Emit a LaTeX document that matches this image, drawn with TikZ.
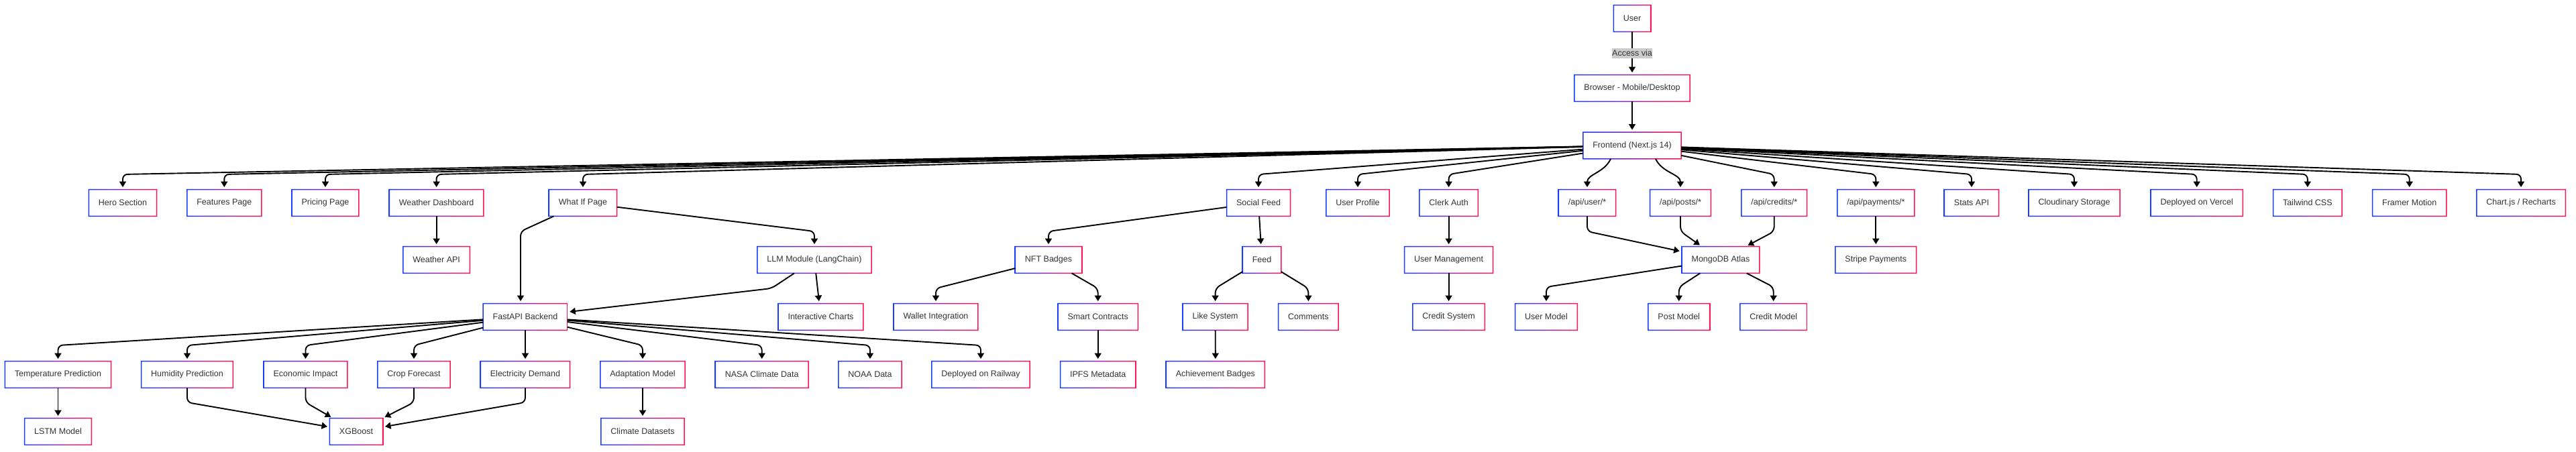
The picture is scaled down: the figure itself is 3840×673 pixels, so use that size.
\documentclass[tikz,border=0pt]{standalone}
\usepackage{fontspec}
\setmainfont{Liberation Sans}
\usetikzlibrary{arrows.meta}
\definecolor{bblue}{HTML}{1A3CFF}
\definecolor{bred}{HTML}{FF1550}
\definecolor{textc}{HTML}{333333}
\definecolor{lblgray}{HTML}{CCCCCC}
\begin{document}
\begin{tikzpicture}[x=1pt, y=-1pt,
  box/.style={rectangle, minimum height=39.5pt, inner xsep=14.3pt, inner ysep=0pt, fill=white, text=textc, font=\fontsize{12.5}{15}\selectfont},
  edge/.style={draw=black, line width=1.9pt, -{Triangle[length=8.5pt,width=10pt]}, shorten >=3.5pt, rounded corners=7pt},
  lbl/.style={fill=lblgray, inner xsep=0.5pt, inner ysep=3pt, text=textc, font=\fontsize{12.5}{15}\selectfont}
]
\useasboundingbox (0,0) rectangle (3840,673);
\fill[white] (0,0) rectangle (3840,673);

% top
\node[box] (user) at (2433,27.5) {User};
\node[box] (browser) at (2433,131.5) {Browser - Mobile/Desktop};
\node[box] (fe) at (2433,217) {Frontend (Next.js 14)};

% row 1
\node[box] (hero) at (183,302.5) {Hero Section};
\node[box] (features) at (334.3,302.5) {Features Page};
\node[box] (pricing) at (485,302.5) {Pricing Page};
\node[box] (wdash) at (650.6,302.5) {Weather Dashboard};
\node[box] (whatif) at (869,302.5) {What If Page};
\node[box] (social) at (1876,302.5) {Social Feed};
\node[box] (uprofile) at (2024,302.5) {User Profile};
\node[box] (clerk) at (2159.6,302.5) {Clerk Auth};
\node[box] (apiuser) at (2366,302.5) {/api/user/*};
\node[box] (apiposts) at (2505,302.5) {/api/posts/*};
\node[box] (apicredits) at (2644.7,302.5) {/api/credits/*};
\node[box] (apipay) at (2796.3,302.5) {/api/payments/*};
\node[box] (stats) at (2939,302.5) {Stats API};
\node[box] (cloud) at (3092,302.5) {Cloudinary Storage};
\node[box] (vercel) at (3274.7,302.5) {Deployed on Vercel};
\node[box] (tailwind) at (3439.8,302.5) {Tailwind CSS};
\node[box] (framer) at (3591.7,302.5) {Framer Motion};
\node[box] (chart) at (3758,302.5) {Chart.js / Recharts};

% row 2
\node[box] (wapi) at (650.6,387.5) {Weather API};
\node[box] (llm) at (1214,387.5) {LLM Module (LangChain)};
\node[box] (nft) at (1563,387.5) {NFT Badges};
\node[box] (feed) at (1881,387.5) {Feed};
\node[box] (umgmt) at (2159.6,387.5) {User Management};
\node[box] (mongo) at (2565,387.5) {MongoDB Atlas};
\node[box] (stripe) at (2796.3,387.5) {Stripe Payments};

% row 3
\node[box] (fastapi) at (783,472.5) {FastAPI Backend};
\node[box] (charts) at (1223.5,472.5) {Interactive Charts};
\node[box] (wallet) at (1395,472.5) {Wallet Integration};
\node[box] (smart) at (1636.7,472.5) {Smart Contracts};
\node[box] (like) at (1811.6,472.5) {Like System};
\node[box] (comments) at (1950.4,472.5) {Comments};
\node[box] (credsys) at (2159.6,472.5) {Credit System};
\node[box] (umodel) at (2305,472.5) {User Model};
\node[box] (pmodel) at (2502.7,472.5) {Post Model};
\node[box] (cmodel) at (2643.7,472.5) {Credit Model};

% row 4
\node[box] (temp) at (86.5,558.5) {Temperature Prediction};
\node[box] (hum) at (279,558.5) {Humidity Prediction};
\node[box] (eco) at (455.5,558.5) {Economic Impact};
\node[box] (crop) at (617,558.5) {Crop Forecast};
\node[box] (elec) at (783,558.5) {Electricity Demand};
\node[box] (adapt) at (958,558.5) {Adaptation Model};
\node[box] (nasa) at (1135.7,558.5) {NASA Climate Data};
\node[box] (noaa) at (1297,558.5) {NOAA Data};
\node[box] (railway) at (1462,558.5) {Deployed on Railway};
\node[box] (ipfs) at (1636.7,558.5) {IPFS Metadata};
\node[box] (achieve) at (1811.9,558.5) {Achievement Badges};

% row 5
\node[box] (lstm) at (86.5,643.5) {LSTM Model};
\node[box] (xgb) at (531,643.5) {XGBoost};
\node[box] (climate) at (958,643.5) {Climate Datasets};

% gradient frames
\foreach \nm in {user,browser,fe,hero,features,pricing,wdash,whatif,social,uprofile,clerk,apiuser,apiposts,apicredits,apipay,stats,cloud,vercel,tailwind,framer,chart,wapi,llm,nft,feed,umgmt,mongo,stripe,fastapi,charts,wallet,smart,like,comments,credsys,umodel,pmodel,cmodel,temp,hum,eco,crop,elec,adapt,nasa,noaa,railway,ipfs,achieve,lstm,xgb,climate}{
  \shade[even odd rule, left color=bblue, right color=bred]
    ([shift={(-0.75pt,-0.75pt)}]\nm.south west) rectangle ([shift={(0.75pt,0.75pt)}]\nm.north east)
    ([shift={(0.75pt,0.75pt)}]\nm.south west) rectangle ([shift={(-0.75pt,-0.75pt)}]\nm.north east);
}

% edges
\draw[edge] (user) -- (browser);
\path (user) -- node[lbl] (accvia) {Access via} (browser);
\draw[edge] (browser) -- (fe);
\foreach \nm/\xx in {hero/183, features/334.3, pricing/485, wdash/650.6, whatif/869, social/1876, uprofile/2024, clerk/2159.6, apicredits/2644.7, apipay/2796.3, stats/2939, cloud/3092, vercel/3274.7, tailwind/3439.8, framer/3591.7, chart/3758}{
  \draw[edge] (fe) -- (\xx,260) -- (\nm);
}
\draw[edge] ([xshift=-32pt]fe.south) to[out=-115,in=90] (apiuser);
\draw[edge] ([xshift=35pt]fe.south) to[out=-65,in=90] (apiposts);

\draw[edge] (wdash) -- (wapi);
\draw[edge] (whatif) -- (776,345) -- ([xshift=-7pt]fastapi.north);
\draw[edge] (whatif) -- (1214,345) -- (llm);
\draw[edge] (llm) -- (1150,430) -- (fastapi);
\draw[edge] (llm) -- (charts);

\foreach \nm/\xx in {temp/86.5, hum/279, eco/455.5, crop/617, adapt/958, nasa/1135.7, noaa/1297, railway/1462}{
  \draw[edge] (fastapi) -- (\xx,515) -- (\nm);
}
\draw[edge] (fastapi) -- (elec);
\draw[edge] (temp) -- (lstm);
\foreach \nm/\xx in {hum/279, eco/455.5, crop/617, elec/783}{
  \draw[edge] (\nm) -- (\xx,600) -- (xgb);
}
\draw[edge] (adapt) -- (climate);

\draw[edge] (social) -- (1563,345) -- (nft);
\draw[edge] (social) -- (feed);
\draw[edge] (nft) -- (1395,430) -- (wallet);
\draw[edge] (nft) -- (1636.7,430) -- (smart);
\draw[edge] (smart) -- (ipfs);
\draw[edge] (feed) -- (1811.6,430) -- (like);
\draw[edge] (feed) -- (1950.4,430) -- (comments);
\draw[edge] (like) -- (achieve);

\draw[edge] (clerk) -- (umgmt);
\draw[edge] (umgmt) -- (credsys);
\foreach \nm/\xx in {apiuser/2366, apiposts/2505, apicredits/2644.7}{
  \draw[edge] (\nm) -- (\xx,345) -- (mongo);
}
\draw[edge] (apipay) -- (stripe);
\foreach \nm/\xx in {umodel/2305, pmodel/2502.7, cmodel/2643.7}{
  \draw[edge] (mongo) -- (\xx,428) -- (\nm);
}
\end{tikzpicture}
\end{document}
